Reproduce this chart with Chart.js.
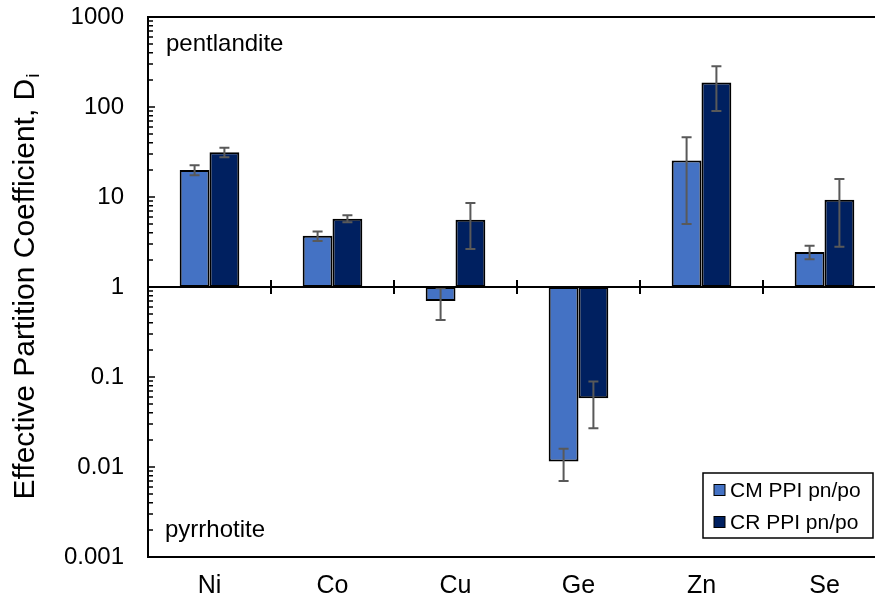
<!DOCTYPE html>
<html>
<head>
<meta charset="utf-8">
<script src="https://cdn.jsdelivr.net/npm/chart.js@4.4.1/dist/chart.umd.min.js"></script>
<style>
  html, body { margin: 0; padding: 0; background: #ffffff; overflow: hidden; }
  #wrap { width: 886px; height: 601px; position: relative; }
</style>
</head>
<body>
<div id="wrap"><canvas id="chart" width="886" height="601"></canvas></div>
<script>
// Elements and effective partition coefficients (pentlandite / pyrrhotite)
const categories = ['Ni', 'Co', 'Cu', 'Ge', 'Zn', 'Se'];
const cmValues = [20, 3.7, 0.70, 0.0115, 25.5, 2.45];
const cmErrors = [2.5, 0.45, 0.27, 0.0045, 20.5, 0.42];
const crValues = [31.5, 5.75, 5.6, 0.058, 187, 9.3];
const crErrors = [3.8, 0.5, 2.95, 0.031, 97, 6.5];
const seriesLabels = ['CM PPI pn/po', 'CR PPI pn/po'];
const yTickValues = [0.001, 0.01, 0.1, 1, 10, 100, 1000];

const FONT = '"Liberation Sans", Arial, sans-serif';
const colors = ['#4472C4', '#002060'];
const errorSets = [cmErrors, crErrors];

// Bars float from the reference level 1 up or down to each value
const toFloating = vals => vals.map(v => [1, v]);

const decorations = {
  id: 'decorations',
  afterDatasetsDraw(chart) {
    const ctx = chart.ctx;
    const area = chart.chartArea;
    const y = chart.scales.y;
    ctx.save();

    // error bars
    ctx.strokeStyle = '#595959';
    ctx.lineWidth = 2;
    chart.data.datasets.forEach((ds, di) => {
      const meta = chart.getDatasetMeta(di);
      meta.data.forEach((bar, i) => {
        const v = ds.data[i][1];
        const e = errorSets[di][i];
        const top = y.getPixelForValue(v + e);
        const bot = y.getPixelForValue(Math.max(v - e, 1e-6));
        const cx = bar.x;
        ctx.beginPath();
        ctx.moveTo(cx, top); ctx.lineTo(cx, bot);
        ctx.moveTo(cx - 5, top); ctx.lineTo(cx + 5, top);
        ctx.moveTo(cx - 5, bot); ctx.lineTo(cx + 5, bot);
        ctx.stroke();
      });
    });

    // frame: left, top and bottom lines
    ctx.strokeStyle = '#000000';
    ctx.lineWidth = 2;
    ctx.beginPath();
    ctx.moveTo(area.left, area.top); ctx.lineTo(area.right, area.top);
    ctx.moveTo(area.left, area.bottom); ctx.lineTo(area.right, area.bottom);
    ctx.moveTo(area.left, area.top - 1); ctx.lineTo(area.left, area.bottom + 1);
    ctx.stroke();

    // inward ticks on the log axis
    ctx.lineWidth = 1.5;
    ctx.beginPath();
    for (let d = -3; d <= 3; d++) {
      const base = Math.pow(10, d);
      const py = y.getPixelForValue(base);
      ctx.moveTo(area.left, py); ctx.lineTo(area.left + 7, py);
      if (d < 3) {
        for (let m = 2; m <= 9; m++) {
          const pm = y.getPixelForValue(m * base);
          ctx.moveTo(area.left, pm); ctx.lineTo(area.left + 5, pm);
        }
      }
    }
    ctx.stroke();

    // reference line at 1 with category separators
    const y1 = y.getPixelForValue(1);
    ctx.lineWidth = 2;
    ctx.beginPath();
    ctx.moveTo(area.left, y1); ctx.lineTo(area.right, y1);
    const step = (area.right - area.left) / categories.length;
    for (let i = 1; i < categories.length; i++) {
      const px = area.left + step * i;
      ctx.moveTo(px, y1 - 7); ctx.lineTo(px, y1 + 7);
    }
    ctx.stroke();

    // mineral labels
    ctx.fillStyle = '#000000';
    ctx.font = '24px ' + FONT;
    ctx.textAlign = 'left';
    ctx.textBaseline = 'alphabetic';
    ctx.fillText('pentlandite', 166, 51);
    ctx.fillText('pyrrhotite', 165, 537);

    // legend
    const lx = 703, ly = 473, lw = 170, lh = 65;
    ctx.fillStyle = '#ffffff';
    ctx.fillRect(lx, ly, lw, lh);
    ctx.strokeStyle = '#000000';
    ctx.lineWidth = 1.5;
    ctx.strokeRect(lx, ly, lw, lh);
    const rows = [490, 522];
    seriesLabels.forEach((lab, i) => {
      ctx.fillStyle = colors[i];
      ctx.fillRect(714, rows[i] - 5.5, 11, 11);
      ctx.lineWidth = 1;
      ctx.strokeStyle = '#000000';
      ctx.strokeRect(714, rows[i] - 5.5, 11, 11);
      ctx.fillStyle = '#000000';
      ctx.font = '21px ' + FONT;
      ctx.textBaseline = 'middle';
      ctx.fillText(lab, 730, rows[i] + 1);
    });

    // y axis title with subscript
    const main = 'Effective Partition Coefficient, D';
    const sub = 'i';
    ctx.font = '30px ' + FONT;
    const wMain = ctx.measureText(main).width;
    ctx.font = '19px ' + FONT;
    const wSub = ctx.measureText(sub).width;
    const total = wMain + wSub;
    const cy = (area.top + area.bottom) / 2;
    ctx.translate(34, cy);
    ctx.rotate(-Math.PI / 2);
    ctx.textAlign = 'left';
    ctx.textBaseline = 'alphabetic';
    ctx.fillStyle = '#000000';
    ctx.font = '30px ' + FONT;
    ctx.fillText(main, -total / 2, 0);
    ctx.font = '19px ' + FONT;
    ctx.fillText(sub, -total / 2 + wMain + 1, 5);

    ctx.restore();
  }
};

new Chart(document.getElementById('chart'), {
  type: 'bar',
  data: {
    labels: categories,
    datasets: [
      {
        label: seriesLabels[0],
        data: toFloating(cmValues),
        backgroundColor: colors[0],
        borderColor: '#000000',
        borderWidth: 2,
        borderSkipped: false,
        categoryPercentage: 0.485,
        barPercentage: 1.0
      },
      {
        label: seriesLabels[1],
        data: toFloating(crValues),
        backgroundColor: colors[1],
        borderColor: '#000000',
        borderWidth: 2,
        borderSkipped: false,
        categoryPercentage: 0.485,
        barPercentage: 1.0
      }
    ]
  },
  options: {
    responsive: false,
    animation: false,
    devicePixelRatio: 1,
    layout: { padding: { top: 17, right: 0, bottom: 0, left: 0 } },
    plugins: {
      legend: { display: false },
      tooltip: { enabled: false },
      title: { display: false }
    },
    scales: {
      x: {
        type: 'category',
        offset: true,
        grid: { display: false, drawTicks: false },
        border: { display: false },
        ticks: {
          color: '#000000',
          font: { family: FONT, size: 25 },
          padding: 14,
          maxRotation: 0,
          autoSkip: false
        },
        afterFit(scale) {
          scale.height = 44;
          scale.paddingLeft = 0;
          scale.paddingRight = 0;
        }
      },
      y: {
        type: 'logarithmic',
        min: 0.001,
        max: 1000,
        grid: { display: false, drawTicks: false },
        border: { display: false },
        afterBuildTicks(scale) {
          scale.ticks = yTickValues.map(v => ({ value: v }));
        },
        ticks: {
          color: '#000000',
          font: { family: FONT, size: 24 },
          padding: 24,
          callback: v => String(v)
        },
        afterFit(scale) {
          scale.width = 148;
          scale.paddingTop = 0;
          scale.paddingBottom = 0;
        }
      }
    }
  },
  plugins: [decorations]
});
</script>
</body>
</html>
